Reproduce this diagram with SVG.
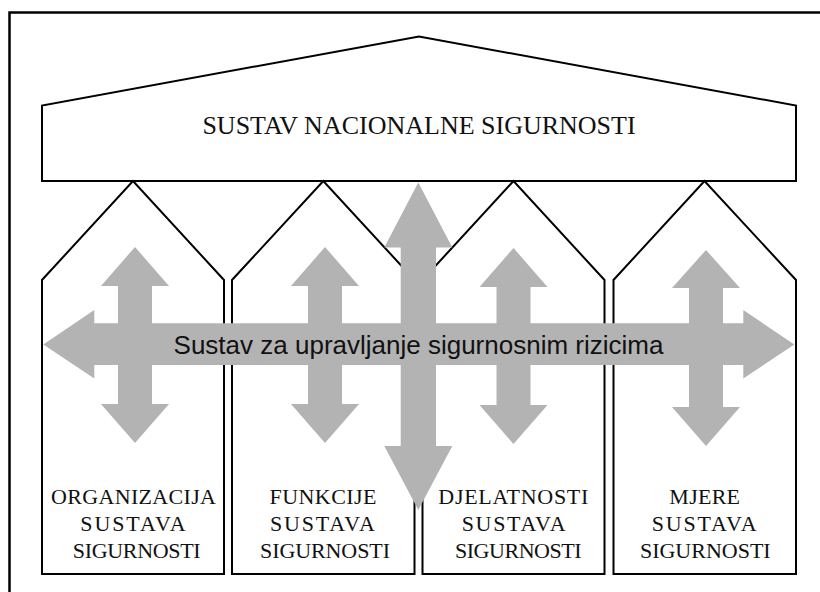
<svg xmlns="http://www.w3.org/2000/svg" width="820" height="592" viewBox="0 0 820 592">
<style>
.ln{fill:#fff;stroke:#000;stroke-width:2;stroke-linejoin:miter}
.ar{fill:#b3b3b3;stroke:none}
.lbl{font-family:"Liberation Serif","Times New Roman",serif;font-size:22px;fill:#111;text-anchor:middle}
.ttl{font-family:"Liberation Serif","Times New Roman",serif;font-size:26px;fill:#111;text-anchor:middle}
.mid{font-family:"Liberation Sans",Arial,sans-serif;font-size:26px;fill:#111;text-anchor:middle}
</style>
<rect width="820" height="592" fill="#fff"/>
<g id="frame">
<polyline points="9.5,592 9.5,12.5 820,12.5" fill="none" stroke="#000" stroke-width="2.5"/>
</g>
<g id="roof">
<polygon class="ln" points="42,181 42,105.5 419,36.5 796,105.5 796,181"/>
<text class="ttl" x="419" y="133.5">SUSTAV NACIONALNE SIGURNOSTI</text>
</g>
<g id="col1">
<polygon class="ln" points="42,574 42,280 133,181 224,280 224,574"/>
</g>
<g id="col2">
<polygon class="ln" points="232,574 232,280 323.3,181 414.5,280 414.5,574"/>
</g>
<g id="col3">
<polygon class="ln" points="422.5,574 422.5,280 513.5,181 604.5,280 604.5,574"/>
</g>
<g id="col4">
<polygon class="ln" points="613.5,574 613.5,280 704.5,181 796,280 796,574"/>
</g>
<g id="connectors">
<polygon class="ar" points="135,247 169,286 152,286 152,404 169,404 135,443 101,404 118,404 118,286 101,286"/>
<polygon class="ar" points="325,247 359,286 342,286 342,404 359,404 325,443 291,404 308,404 308,286 291,286"/>
<polygon class="ar" points="513.5,248 547.5,287 530.5,287 530.5,405 547.5,405 513.5,444 479.5,405 496.5,405 496.5,287 479.5,287"/>
<polygon class="ar" points="706,250 740,288 723,288 723,407 740,407 706,446 672,407 689,407 689,288 672,288"/>
<polygon class="ar" points="418.3,182.5 452.3,247.5 436,247.5 436,446 452.3,446 418.3,510 384.3,446 400.7,446 400.7,247.5 384.3,247.5"/>
<polygon class="ar" points="43.3,344.5 94.3,310 94.3,323.3 743.3,323.3 743.3,310 794.3,344.5 743.3,378.5 743.3,365 94.3,365 94.3,378.5"/>
</g>
<g id="risk-label">
<text class="mid" x="418.5" y="353.5">Sustav za upravljanje sigurnosnim rizicima</text>
</g>
<g id="col1-label">
<text class="lbl" x="133.5" y="503.5" textLength="165" lengthAdjust="spacing">ORGANIZACIJA</text>
<text class="lbl" x="133" y="531" textLength="105.5" lengthAdjust="spacing">SUSTAVA</text>
<text class="lbl" x="136.7" y="558" textLength="128" lengthAdjust="spacing">SIGURNOSTI</text>
</g>
<g id="col2-label">
<text class="lbl" x="323" y="503.5" textLength="107" lengthAdjust="spacing">FUNKCIJE</text>
<text class="lbl" x="322.5" y="531" textLength="105" lengthAdjust="spacing">SUSTAVA</text>
<text class="lbl" x="325" y="558" textLength="130" lengthAdjust="spacing">SIGURNOSTI</text>
</g>
<g id="col3-label">
<text class="lbl" x="513.3" y="503.5" textLength="150" lengthAdjust="spacing">DJELATNOSTI</text>
<text class="lbl" x="513.7" y="531" textLength="104" lengthAdjust="spacing">SUSTAVA</text>
<text class="lbl" x="518.3" y="558" textLength="126.7" lengthAdjust="spacing">SIGURNOSTI</text>
</g>
<g id="col4-label">
<text class="lbl" x="704.7" y="503.5" textLength="70.7" lengthAdjust="spacing">MJERE</text>
<text class="lbl" x="704.2" y="531" textLength="105" lengthAdjust="spacing">SUSTAVA</text>
<text class="lbl" x="705.3" y="558" textLength="130.7" lengthAdjust="spacing">SIGURNOSTI</text>
</g>
</svg>
